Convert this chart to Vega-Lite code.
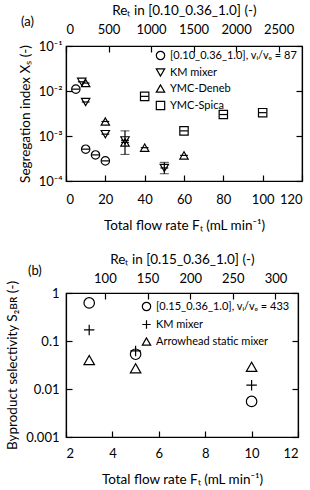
{
  "$schema": "https://vega.github.io/schema/vega-lite/v6.json",
  "padding": {"left": 5, "top": 2, "right": 5, "bottom": 2},
  "spacing": 18,
  "config": {
    "font": "Lato",
    "view": {"stroke": "black", "strokeWidth": 1.2},
    "axis": {"domainColor": "black", "tickColor": "black", "labelColor": "black", "titleColor": "black", "grid": false, "labelFontSize": 13, "titleFontSize": 13.5, "titleFontWeight": "normal", "tickSize": -6, "labelPadding": 16, "domainWidth": 1.2, "tickWidth": 1.2},
    "legend": {"labelFontSize": 11, "labelColor": "black", "symbolStrokeColor": "black", "symbolFillColor": "transparent", "symbolStrokeWidth": 1.2, "symbolSize": 70, "rowPadding": 3, "padding": 0, "title": null},
    "title": {"fontSize": 13, "fontWeight": "normal", "color": "black"}
  },
  "vconcat": [
    {
      "width": 236,
      "height": 135,
      "title": {"text": "(a)", "anchor": "start", "frame": "group", "dx": -45, "dy": 30},
      "layer": [
        {
          "data": {"values": [{"Re": 0, "Xs": 0.001}]},
          "mark": {"type": "point", "opacity": 0},
          "encoding": {
            "x": {"field": "Re", "type": "quantitative", "scale": {"domain": [0, 2775], "nice": false, "zero": false},
                  "axis": {"orient": "top", "values": [0, 500, 1000, 1500, 2000, 2500], "format": "d", "title": "Reₜ in [0.10_0.36_1.0] (-)", "titlePadding": 6, "labelPadding": 16}},
            "y": {"field": "Xs", "type": "quantitative", "scale": {"type": "log", "domain": [0.0001, 0.1], "nice": false},
                  "axis": {"orient": "right", "values": [0.0001, 0.001, 0.01, 0.1], "labels": false, "title": null}}
          }
        },
        {
          "data": {"values": [
            {"F": 5, "X": 0.011, "series": "[0.10_0.36_1.0], vᵢ/vₒ = 87"},
            {"F": 10, "X": 0.00051, "series": "[0.10_0.36_1.0], vᵢ/vₒ = 87"},
            {"F": 15, "X": 0.00038, "series": "[0.10_0.36_1.0], vᵢ/vₒ = 87"},
            {"F": 20, "X": 0.00028, "series": "[0.10_0.36_1.0], vᵢ/vₒ = 87"},
            {"F": 8, "X": 0.016, "series": "KM mixer"},
            {"F": 10, "X": 0.0057, "series": "KM mixer"},
            {"F": 20, "X": 0.0011, "series": "KM mixer"},
            {"F": 30, "X": 0.0008, "series": "KM mixer", "lo": 0.00039, "hi": 0.0013},
            {"F": 50, "X": 0.000195, "series": "KM mixer", "lo": 0.000145, "hi": 0.00026},
            {"F": 10, "X": 0.015, "series": "YMC-Deneb"},
            {"F": 20, "X": 0.0021, "series": "YMC-Deneb"},
            {"F": 30, "X": 0.00072, "series": "YMC-Deneb"},
            {"F": 40, "X": 0.00055, "series": "YMC-Deneb"},
            {"F": 60, "X": 0.00037, "series": "YMC-Deneb"},
            {"F": 40, "X": 0.0076, "series": "YMC-Spica"},
            {"F": 60, "X": 0.0013, "series": "YMC-Spica"},
            {"F": 80, "X": 0.003, "series": "YMC-Spica"},
            {"F": 100, "X": 0.0033, "series": "YMC-Spica"}
          ]},
          "encoding": {
            "x": {"field": "F", "type": "quantitative", "scale": {"domain": [0, 120], "nice": false},
                  "axis": {"orient": "bottom", "values": [0, 20, 40, 60, 80, 100, 120], "title": "Total flow rate Fₜ (mL min⁻¹)", "titlePadding": 12, "labelPadding": 18}},
            "y": {"field": "X", "type": "quantitative", "scale": {"type": "log", "domain": [0.0001, 0.1], "nice": false},
                  "axis": {"orient": "left", "values": [0.0001, 0.001, 0.01, 0.1], "labelPadding": 10, "labelExpr": "datum.value < 0.0005 ? '10⁻⁴' : datum.value < 0.005 ? '10⁻³' : datum.value < 0.05 ? '10⁻²' : '10⁻¹'", "title": "Segregation index Xₛ (-)", "titlePadding": 6}}
          },
          "layer": [
            {
              "transform": [{"filter": "datum.lo != null"}],
              "mark": {"type": "errorbar", "ticks": {"size": 9, "color": "black", "strokeWidth": 1.2}, "rule": {"color": "black", "strokeWidth": 1.2}},
              "encoding": {"y": {"field": "lo", "type": "quantitative", "scale": {"type": "log", "domain": [0.0001, 0.1], "nice": false}}, "y2": {"field": "hi"}}
            },
            {
              "mark": {"type": "point", "filled": false, "stroke": "black", "strokeWidth": 1.2, "size": 70, "opacity": 1},
              "encoding": {
                "shape": {"field": "series", "type": "nominal",
                          "scale": {"domain": ["[0.10_0.36_1.0], vᵢ/vₒ = 87", "KM mixer", "YMC-Deneb", "YMC-Spica"], "range": ["circle", "triangle-down", "triangle-up", "square"]},
                          "legend": {"orient": "top-right", "offset": 4, "symbolOffset": 0}}
              }
            },
            {
              "mark": {"type": "point", "shape": "M-1,0L1,0", "filled": false, "stroke": "black", "strokeWidth": 1.2, "size": 60, "opacity": 1}
            }
          ]
        }
      ],
      "resolve": {"scale": {"x": "independent", "y": "independent"}}
    },
    {
      "width": 232,
      "height": 144,
      "title": {"text": "(b)", "anchor": "start", "frame": "group", "dx": -38, "dy": 30},
      "layer": [
        {
          "data": {"values": [{"Re": 100, "S": 0.01}]},
          "mark": {"type": "point", "opacity": 0},
          "encoding": {
            "x": {"field": "Re", "type": "quantitative", "scale": {"domain": [54.4, 326.4], "nice": false, "zero": false},
                  "axis": {"orient": "top", "values": [100, 150, 200, 250, 300], "title": "Reₜ in [0.15_0.36_1.0]  (-)", "titlePadding": 6, "labelPadding": 14}},
            "y": {"field": "S", "type": "quantitative", "scale": {"type": "log", "domain": [0.001, 1], "nice": false},
                  "axis": {"orient": "right", "values": [0.001, 0.01, 0.1, 1], "labels": false, "title": null}}
          }
        },
        {
          "data": {"values": [
            {"F": 3, "S": 0.62, "series": "[0.15_0.36_1.0], vᵢ/vₒ = 433"},
            {"F": 5, "S": 0.053, "series": "[0.15_0.36_1.0], vᵢ/vₒ = 433"},
            {"F": 10, "S": 0.0055, "series": "[0.15_0.36_1.0], vᵢ/vₒ = 433"},
            {"F": 3, "S": 0.17, "series": "KM mixer"},
            {"F": 5, "S": 0.062, "series": "KM mixer"},
            {"F": 10, "S": 0.012, "series": "KM mixer"},
            {"F": 3, "S": 0.04, "series": "Arrowhead static mixer"},
            {"F": 5, "S": 0.027, "series": "Arrowhead static mixer"},
            {"F": 10, "S": 0.029, "series": "Arrowhead static mixer"}
          ]},
          "mark": {"type": "point", "filled": false, "stroke": "black", "strokeWidth": 1.2, "size": 110, "opacity": 1},
          "encoding": {
            "x": {"field": "F", "type": "quantitative", "scale": {"domain": [2, 12], "nice": false, "zero": false},
                  "axis": {"orient": "bottom", "values": [2, 4, 6, 8, 10, 12], "title": "Total flow rate Fₜ (mL min⁻¹)", "titlePadding": 12, "labelPadding": 16}},
            "y": {"field": "S", "type": "quantitative", "scale": {"type": "log", "domain": [0.001, 1], "nice": false},
                  "axis": {"orient": "left", "values": [0.001, 0.01, 0.1, 1], "labelPadding": 13, "labelExpr": "datum.value < 0.005 ? '0.001' : datum.value < 0.05 ? '0.01' : datum.value < 0.5 ? '0.1' : '1'", "title": "Byproduct selectivity S₂ʙʀ (-)", "titlePadding": 6}},
            "shape": {"field": "series", "type": "nominal",
                      "scale": {"domain": ["[0.15_0.36_1.0], vᵢ/vₒ = 433", "KM mixer", "Arrowhead static mixer"], "range": ["circle", "M-1,0L1,0M0,-1L0,1", "triangle-up"]},
                      "legend": {"orient": "top-right", "offset": 8, "rowPadding": 3}}
          }
        }
      ],
      "resolve": {"scale": {"x": "independent", "y": "independent"}}
    }
  ],
  "resolve": {"scale": {"shape": "independent"}, "legend": {"shape": "independent"}}
}
